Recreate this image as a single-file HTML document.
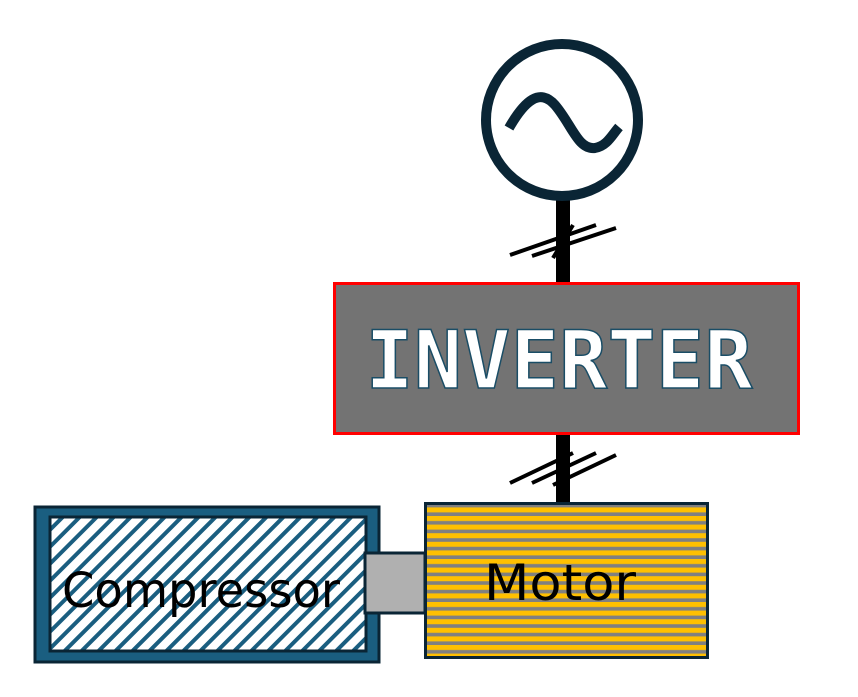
<!DOCTYPE html>
<html><head><style>html,body{margin:0;padding:0;background:#fff;width:858px;height:697px;overflow:hidden}</style></head>
<body>
<svg width="858" height="697" viewBox="0 0 858 697" xmlns="http://www.w3.org/2000/svg">
<defs>
<pattern id="diag" patternUnits="userSpaceOnUse" width="12" height="12" patternTransform="rotate(45)">
<rect width="12" height="12" fill="#fff"/><rect width="4" height="12" fill="#1a5e80"/>
</pattern>
<pattern id="hstr" patternUnits="userSpaceOnUse" width="10" height="8.6">
<rect width="10" height="8.6" fill="#ffc000"/><rect y="5" width="10" height="3.6" fill="#808080"/>
</pattern>
</defs>
<rect x="556" y="195" width="14" height="90" fill="#000"/>
<rect x="556" y="433" width="14" height="72" fill="#000"/>
<g stroke="#000" stroke-width="4">
<line x1="510" y1="255" x2="596" y2="225"/>
<line x1="532" y1="256" x2="616" y2="228"/>
<line x1="553" y1="258" x2="573" y2="225"/>
<line x1="510" y1="483" x2="573" y2="453"/>
<line x1="532" y1="483" x2="596" y2="453"/>
<line x1="553" y1="485" x2="616" y2="455"/>
</g>
<circle cx="562" cy="120" r="76" fill="#fff" stroke="#0a2535" stroke-width="10"/>
<path d="M509 128 C525 100 540 88 555 105 C572 125 578 150 595 148 C607 146 612 135 619 127" fill="none" stroke="#0a2535" stroke-width="10"/>
<rect x="334.5" y="283.5" width="464" height="150" fill="#737373" stroke="#ff0000" stroke-width="3"/>
<text x="559" y="388" text-anchor="middle" font-family="DejaVu Sans Mono, Liberation Mono, monospace" font-weight="bold" font-size="80" fill="#fff" stroke="#1a4d66" stroke-width="1.5" textLength="387">INVERTER</text>
<rect x="35" y="507" width="344" height="155" fill="#1a5e80" stroke="#0a2535" stroke-width="3"/>
<rect x="50" y="517" width="316" height="134" fill="url(#diag)" stroke="#0a2535" stroke-width="3"/>
<text x="201" y="607" text-anchor="middle" font-family="DejaVu Sans, Liberation Sans, sans-serif" font-size="48" fill="#000" textLength="278" lengthAdjust="spacingAndGlyphs">Compressor</text>
<rect x="365" y="553" width="60" height="60" fill="#b0b0b0" stroke="#0a2535" stroke-width="3"/>
<rect x="425.5" y="503.5" width="282" height="154" fill="url(#hstr)" stroke="#0a2535" stroke-width="3"/>
<text x="560" y="600" text-anchor="middle" font-family="DejaVu Sans, Liberation Sans, sans-serif" font-size="50" fill="#000" textLength="152" lengthAdjust="spacingAndGlyphs">Motor</text>
</svg>
</body></html>
